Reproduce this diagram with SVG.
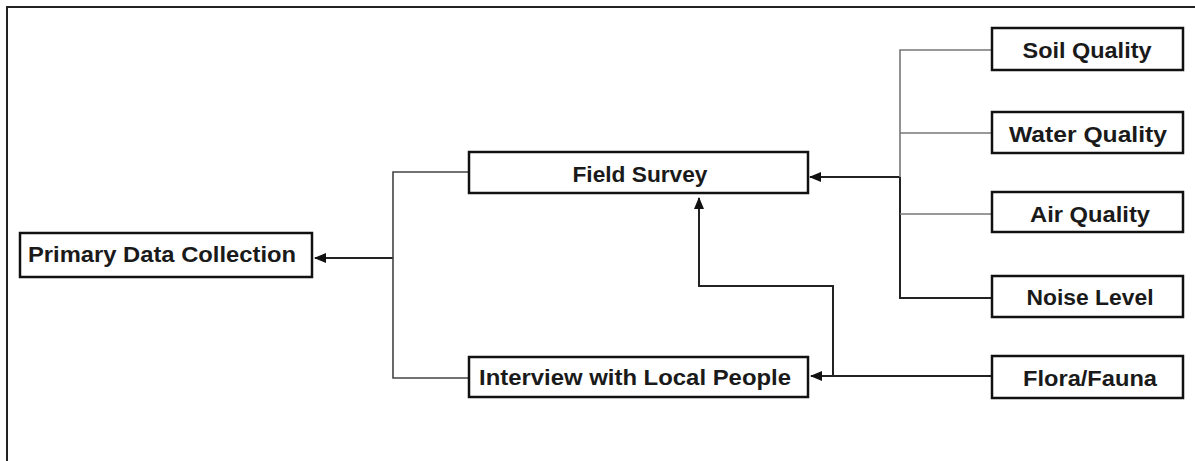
<svg xmlns="http://www.w3.org/2000/svg" width="1195" height="461" viewBox="0 0 1195 461">
<style>
.box{fill:#fff;stroke:#111;stroke-width:2.5}
.t{font-family:"Liberation Sans",Arial,sans-serif;font-weight:bold;font-size:22px;fill:#1a1a1a;text-anchor:middle}
.ln{fill:none;stroke:#222;stroke-width:2}
.gr{fill:none;stroke:#777;stroke-width:1.6}
.dk{fill:none;stroke:#444;stroke-width:1.6}
</style>
<defs>
<marker id="ah" markerUnits="userSpaceOnUse" markerWidth="12" markerHeight="12" viewBox="0 0 12 12" refX="11" refY="6" orient="auto">
<path d="M0,1 L12,6 L0,11 Z" fill="#111"/>
</marker>
</defs>
<rect width="1195" height="461" fill="#fff"/>
<path d="M7,461 V7 H1195" fill="none" stroke="#222" stroke-width="2"/>
<g id="connectors">
<path class="ln" d="M393,258 H315" marker-end="url(#ah)"/>
<path class="dk" d="M469,172 H393 V378 H469"/>
<path class="ln" d="M900,177 H810" marker-end="url(#ah)"/>
<path class="ln" d="M992,298 H900 V177"/>
<path class="gr" d="M900,177 V50 H992"/>
<path class="gr" d="M900,133 H992"/>
<path class="gr" d="M900,214 H992"/>
<path class="ln" d="M992,376 H811" marker-end="url(#ah)"/>
<path class="ln" d="M833,376 V286 H699 V198" marker-end="url(#ah)"/>
</g>
<g id="primary"><rect class="box" x="20" y="233" width="292" height="44"/><text class="t" x="162" y="262" textLength="268" lengthAdjust="spacingAndGlyphs">Primary Data Collection</text></g>
<g id="field"><rect class="box" x="469" y="152" width="339" height="41"/><text class="t" x="640" y="182" textLength="135" lengthAdjust="spacingAndGlyphs">Field Survey</text></g>
<g id="interview"><rect class="box" x="469" y="357" width="339" height="40"/><text class="t" x="635" y="385" textLength="312" lengthAdjust="spacingAndGlyphs">Interview with Local People</text></g>
<g id="soil"><rect class="box" x="992" y="28" width="191" height="42"/><text class="t" x="1087" y="58" textLength="129" lengthAdjust="spacingAndGlyphs">Soil Quality</text></g>
<g id="water"><rect class="box" x="992" y="112" width="191" height="41"/><text class="t" x="1088" y="142" textLength="158" lengthAdjust="spacingAndGlyphs">Water Quality</text></g>
<g id="air"><rect class="box" x="992" y="192" width="191" height="40"/><text class="t" x="1090" y="222" textLength="120" lengthAdjust="spacingAndGlyphs">Air Quality</text></g>
<g id="noise"><rect class="box" x="992" y="276" width="191" height="41"/><text class="t" x="1090" y="305" textLength="127" lengthAdjust="spacingAndGlyphs">Noise Level</text></g>
<g id="flora"><rect class="box" x="992" y="356" width="191" height="42"/><text class="t" x="1090" y="386" textLength="134" lengthAdjust="spacingAndGlyphs">Flora/Fauna</text></g>
</svg>
